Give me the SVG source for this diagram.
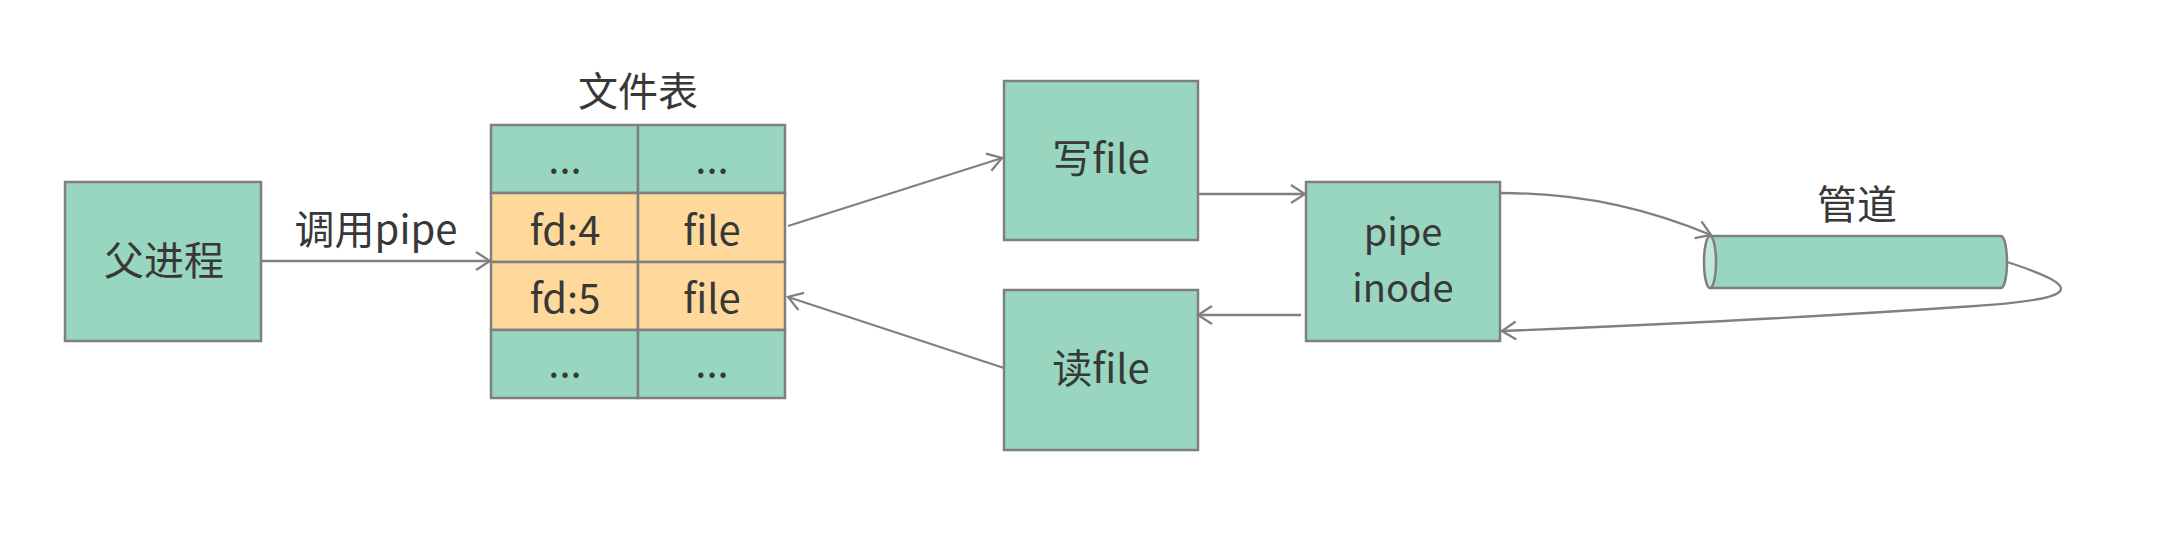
<svg xmlns="http://www.w3.org/2000/svg" width="2168" height="548" viewBox="0 0 2168 548">
<style>
.g{fill:#98d6bf;stroke:#7f7f7f;stroke-width:2.5}
.o{fill:#ffd89b;stroke:#7f7f7f;stroke-width:2.5}
.t{font-family:"Noto Sans CJK SC","Noto Sans",sans-serif;font-size:40px;fill:#383838;text-anchor:middle}
.s{font-size:38px}
.c{fill:none;stroke:#808080;stroke-width:2.3}
</style>
<defs>
<marker id="a" viewBox="0 0 18 22" refX="16" refY="11" markerWidth="18" markerHeight="22" markerUnits="userSpaceOnUse" orient="auto">
<path d="M2,2 L16,11 L2,20" fill="none" stroke="#808080" stroke-width="2.3"/>
</marker>
</defs>
<rect width="2168" height="548" fill="#ffffff"/>
<g id="parent">
<rect class="g" x="65" y="182" width="196" height="159"/>
<text class="t" x="164" y="275">父进程</text>
</g>
<g id="filetable">
<text class="t" x="638" y="106">文件表</text>
<rect class="g" x="491" y="125" width="147" height="68"/>
<rect class="g" x="638" y="125" width="147" height="68"/>
<rect class="o" x="491" y="193" width="147" height="69"/>
<rect class="o" x="638" y="193" width="147" height="69"/>
<rect class="o" x="491" y="262" width="147" height="68"/>
<rect class="o" x="638" y="262" width="147" height="68"/>
<rect class="g" x="491" y="330" width="147" height="68"/>
<rect class="g" x="638" y="330" width="147" height="68"/>
<text class="t" x="565" y="173">...</text>
<text class="t" x="712" y="173">...</text>
<text class="t" x="565" y="245">fd:4</text>
<text class="t" x="712" y="245">file</text>
<text class="t" x="565" y="313">fd:5</text>
<text class="t" x="712" y="313">file</text>
<text class="t" x="565" y="377">...</text>
<text class="t" x="712" y="377">...</text>
</g>
<g id="writefile">
<rect class="g" x="1004" y="81" width="194" height="159"/>
<text class="t" x="1101" y="173">写file</text>
</g>
<g id="readfile">
<rect class="g" x="1004" y="290" width="194" height="160"/>
<text class="t" x="1101" y="383">读file</text>
</g>
<g id="pipeinode">
<rect class="g" x="1306" y="182" width="194" height="159"/>
<text class="t s" x="1403" y="246">pipe</text>
<text class="t s" x="1403" y="302">inode</text>
</g>
<g id="pipe">
<text class="t" x="1857" y="219">管道</text>
<path class="g" d="M1710,236 L2001,236 A6,26 0 0 1 2001,288 L1710,288 Z"/>
<ellipse cx="1710" cy="262" rx="6" ry="26" fill="#c2e6d8" stroke="#7f7f7f" stroke-width="2.5"/>
</g>
<g id="connectors">
<path class="c" d="M261,261 L490,261" marker-end="url(#a)"/>
<text class="t" x="376" y="244">调用pipe</text>
<path class="c" d="M788,226 L1002,158" marker-end="url(#a)"/>
<path class="c" d="M1198,194 L1305,194" marker-end="url(#a)"/>
<path class="c" d="M1301,315 L1198,315" marker-end="url(#a)"/>
<path class="c" d="M1004,368 L788,297" marker-end="url(#a)"/>
<path class="c" d="M1500,193 C1590,193 1655,212 1711,235" marker-end="url(#a)"/>
<path class="c" d="M2007,262 C2088,288 2082,300 1960,307 C1800,318 1650,325 1502,331" marker-end="url(#a)"/>
</g>
</svg>
